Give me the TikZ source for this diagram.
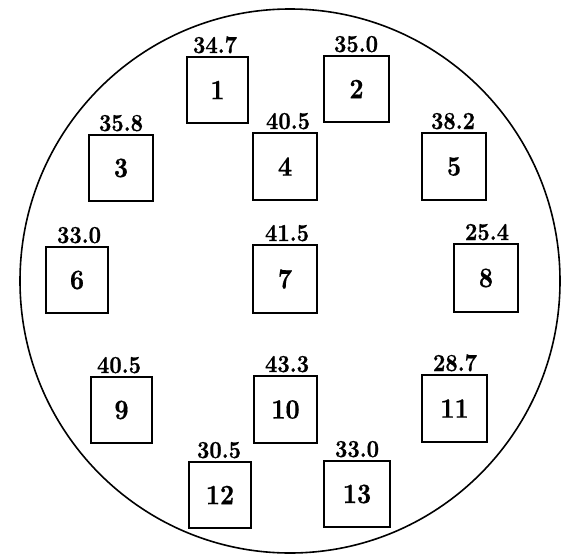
\documentclass[tikz,border=0pt]{standalone}
\usepackage{fontspec}
\newfontfamily\numfont[FakeStretch=0.88,FakeBold=0.6]{lmroman10-bold.otf}
\begin{document}
\begin{tikzpicture}[x=1pt,y=-1pt,
  cell/.style={draw, line width=1.5pt, inner sep=0pt, font=\numfont\fontsize{28}{28}\selectfont},
  lab/.style={anchor=base, inner sep=0pt, font=\numfont\fontsize{24.5}{24.5}\selectfont}]
\useasboundingbox (0,0) rectangle (575,554);
\draw[line width=1.6pt] (290,281) ellipse [x radius=270, y radius=272];
% boxes
\node[cell, minimum width=61pt, minimum height=66pt] (b1) at (217.5,90) {1};
\node[cell, minimum width=65pt, minimum height=66pt] (b2) at (356.5,89) {2};
\node[cell, minimum width=64pt, minimum height=66pt] (b3) at (121,168) {3};
\node[cell, minimum width=64pt, minimum height=67pt] (b4) at (285,166.5) {4};
\node[cell, minimum width=64pt, minimum height=67pt] (b5) at (454,166.5) {5};
\node[cell, minimum width=62pt, minimum height=66pt] (b6) at (77,280) {6};
\node[cell, minimum width=64pt, minimum height=68pt] (b7) at (285,279) {7};
\node[cell, minimum width=64pt, minimum height=68pt] (b8) at (486,278) {8};
\node[cell, minimum width=61pt, minimum height=66pt] (b9) at (121.5,410) {9};
\node[cell, minimum width=63pt, minimum height=67pt] (b10) at (285.5,409.5) {10};
\node[cell, minimum width=65pt, minimum height=67pt] (b11) at (454.5,408.5) {11};
\node[cell, minimum width=62pt, minimum height=66pt] (b12) at (220,495) {12};
\node[cell, minimum width=66pt, minimum height=66pt] (b13) at (357,494) {13};
% labels
\node[lab] (l1) at (215,53) {34.7};
\node[lab] (l2) at (356,52) {35.0};
\node[lab] (l3) at (121,131) {35.8};
\node[lab] (l4) at (288,129) {40.5};
\node[lab] (l5) at (453,129) {38.2};
\node[lab] (l6) at (79,243) {33.0};
\node[lab] (l7) at (287,241) {41.5};
\node[lab] (l8) at (487,240) {25.4};
\node[lab] (l9) at (119,373) {40.5};
\node[lab] (l10) at (287,372) {43.3};
\node[lab] (l11) at (455,371) {28.7};
\node[lab] (l12) at (219,458) {30.5};
\node[lab] (l13) at (357,457) {33.0};
\end{tikzpicture}
\end{document}
